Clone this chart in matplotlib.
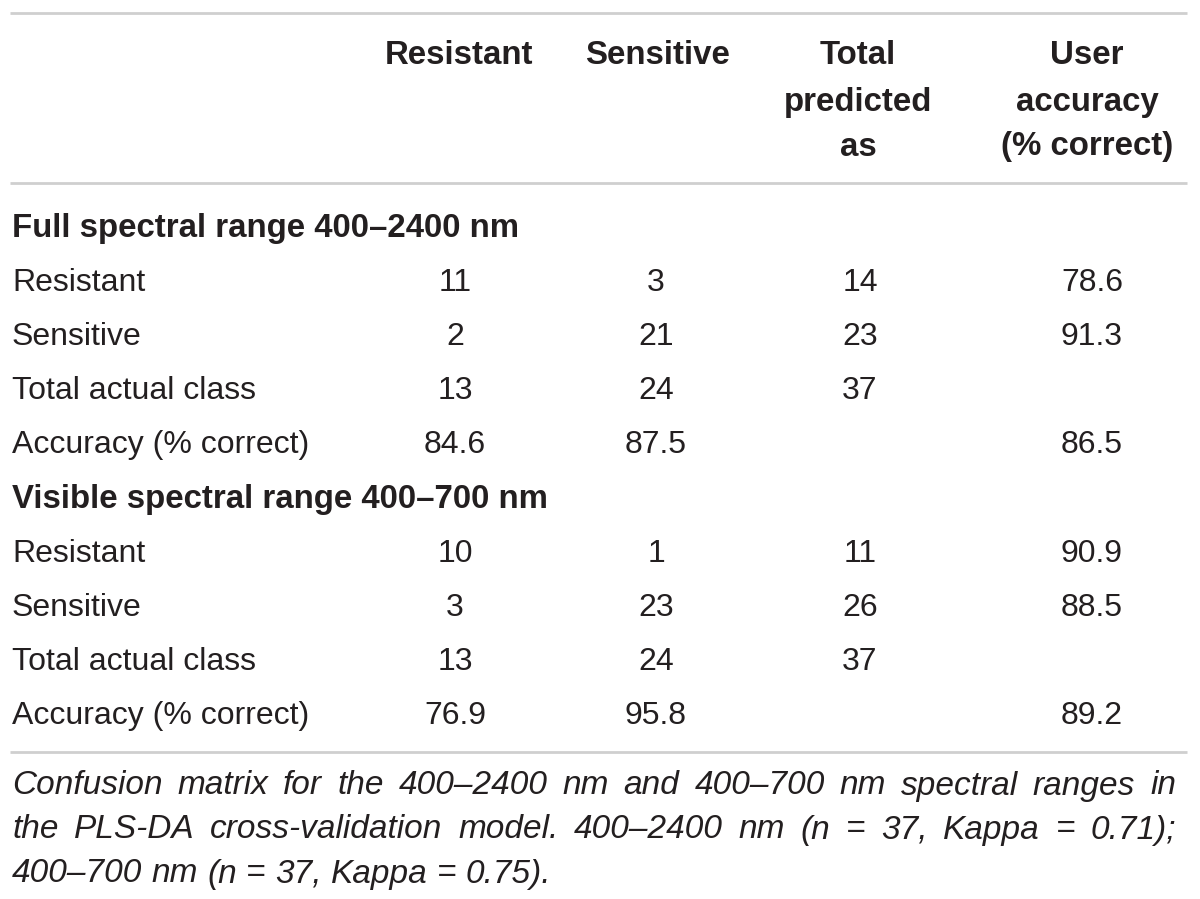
import matplotlib
matplotlib.use("Agg")
import matplotlib.pyplot as plt

# ---- table content ----
col_headers = [
    ["Resistant"],
    ["Sensitive"],
    ["Total", "predicted", "as"],
    ["User", "accuracy", "(% correct)"],
]
sections = ["Full spectral range 400\u20132400 nm", "Visible spectral range 400\u2013700 nm"]
row_labels = ["Resistant", "Sensitive", "Total actual class", "Accuracy (% correct)"]
full_range = [
    ["11", "3", "14", "78.6"],
    ["2", "21", "23", "91.3"],
    ["13", "24", "37", ""],
    ["84.6", "87.5", "", "86.5"],
]
visible_range = [
    ["10", "1", "11", "90.9"],
    ["3", "23", "26", "88.5"],
    ["13", "24", "37", ""],
    ["76.9", "95.8", "", "89.2"],
]
caption_lines = [
    "Confusion matrix for the 400\u20132400 nm and 400\u2013700 nm spectral ranges in",
    "the PLS-DA cross-validation model. 400\u20132400 nm (n = 37, Kappa = 0.71);",
    "400\u2013700 nm (n = 37, Kappa = 0.75).",
]

W, H = 1200, 899
TXT = "#231f20"
RULE = "#cfcfcf"
FS = 23
FS_BOLD = 23.8
FS_CAP = 24
FONT = "Liberation Sans"

fig = plt.figure(figsize=(W / 100, H / 100), dpi=100)
ax = fig.add_axes([0, 0, 1, 1])
ax.set_xlim(0, W)
ax.set_ylim(H, 0)
ax.axis("off")

head_x = [459, 658, 858, 1087]
col_x = [455, 656, 860, 1092]
left_x = 12

# rules
for y in (13, 183, 752):
    ax.plot([10, 1187], [y, y], color=RULE, lw=2, solid_capstyle="butt")

# header
head_y = [56, 102, 147]
for cx, lines in zip(head_x, col_headers):
    for i, t in enumerate(lines):
        ax.text(cx, head_y[i], t, ha="center", va="center", fontsize=FS_BOLD,
                fontweight="bold", color=TXT, family=FONT)

# body
y = 228.5
pitch = 54.2
for sec, block in zip(sections, [full_range, visible_range]):
    ax.text(left_x, y, sec, ha="left", va="center", fontsize=FS_BOLD, fontweight="bold",
            color=TXT, family=FONT)
    y += pitch
    for lab, vals in zip(row_labels, block):
        ax.text(left_x, y, lab, ha="left", va="center", fontsize=FS, color=TXT,
                family=FONT)
        for cx, v in zip(col_x, vals):
            ax.text(cx, y, v, ha="center", va="center", fontsize=FS, color=TXT,
                    family=FONT)
        y += pitch

# caption, justified (last line left aligned)
fig.canvas.draw()
renderer = fig.canvas.get_renderer()
x0, x1 = 12, 1176
cap_kw = dict(fontsize=FS_CAP, style="italic", color=TXT, family=FONT, va="center", ha="left")


def width_of(word):
    t = ax.text(0, 0, word, **cap_kw)
    bb = t.get_window_extent(renderer)
    t.remove()
    return bb.width


space_w = width_of("a b") - width_of("ab")
cap_y = [786, 830, 874]
for li, line in enumerate(caption_lines):
    words = line.split(" ")
    widths = [width_of(w) for w in words]
    last = li == len(caption_lines) - 1
    gap = space_w if last else (x1 - x0 - sum(widths)) / (len(words) - 1)
    xx = x0
    for w, wd in zip(words, widths):
        ax.text(xx, cap_y[li], w, **cap_kw)
        xx += wd + gap

fig.savefig("out.png", dpi=100, facecolor="white")
